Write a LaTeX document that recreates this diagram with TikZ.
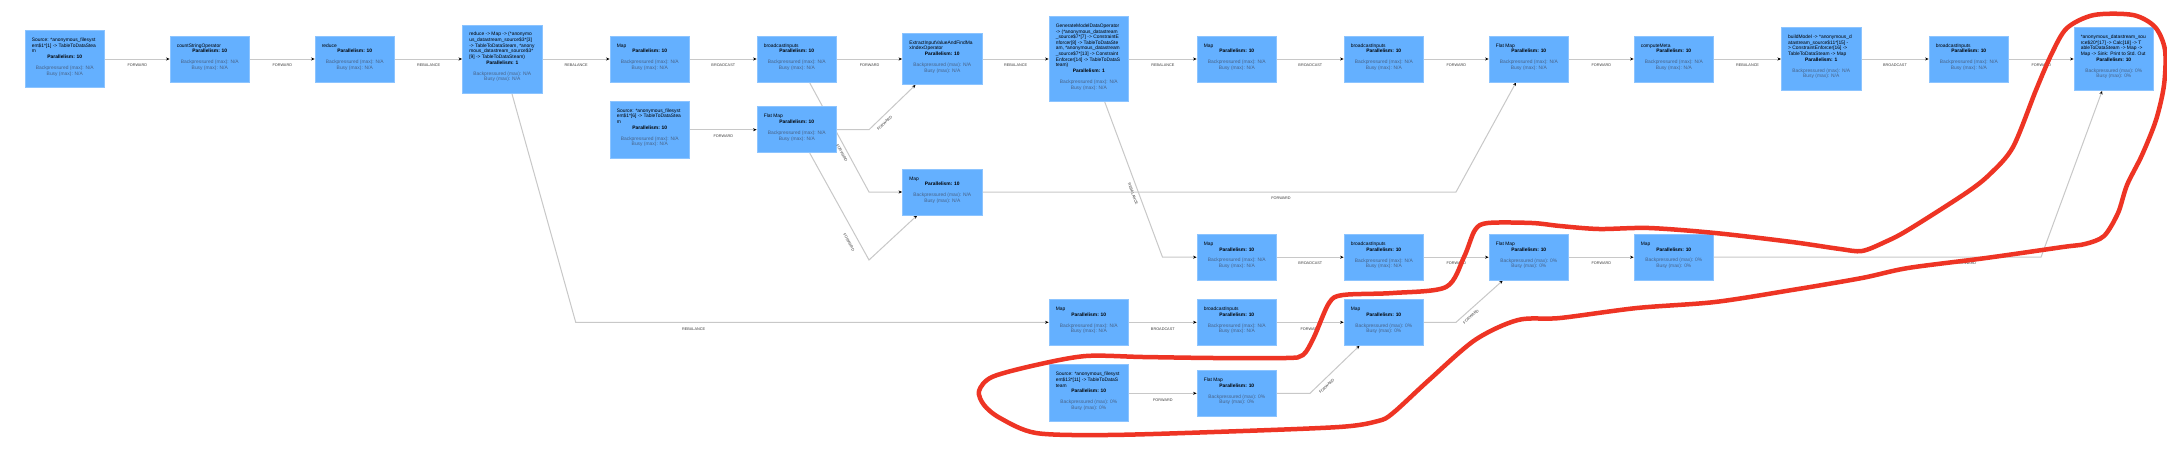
\documentclass[tikz,border=0pt]{standalone}
\usepackage{fontspec}
\setmainfont{Liberation Sans}
\usetikzlibrary{arrows.meta,backgrounds}
\definecolor{opfill}{RGB}{100,176,255}
\definecolor{opline}{RGB}{140,196,255}
\definecolor{edgec}{RGB}{200,200,200}
\definecolor{bpc}{RGB}{72,98,134}
\definecolor{labc}{RGB}{60,60,60}
\definecolor{annot}{RGB}{238,52,36}
\newcommand{\opc}[3]{%
 \begin{minipage}{66pt}\fontsize{4.9pt}{5.6pt}\selectfont\raggedright
 #1\par
 \vspace{0.2pt}{\centering\textbf{Parallelism: #2}\par}%
 \vspace{5.3pt}%
 {\centering\color{bpc}Backpressured (max): #3\par Busy (max): #3\rule[-5pt]{0pt}{5pt}\par}%
 \end{minipage}}
\tikzset{
 opbox/.style={rectangle, fill=opfill, draw=opline, line width=0.7pt, minimum width=79.6pt, minimum height=#1, inner sep=0pt, text=black},
 edge/.style={draw=edgec, line width=1pt, -{Stealth[length=3.6pt,width=3pt,black]}},
 elab/.style={font=\fontsize{3.8pt}{4.5pt}\selectfont, text=labc, inner sep=0pt},
 onedge/.style={elab, midway, yshift=-6.4pt}
}
\begin{document}
\begin{tikzpicture}[x=1pt,y=-1pt]
\useasboundingbox (0,0) rectangle (2167,450);
% row 1
\node[opbox=57pt] (n1) at (64.8,59) {\opc{\mbox{Source: *anonymous\_filesyst}\\\mbox{em\$1*[1] -> TableToDataStea}\\\mbox{m}}{10}{N/A}};
\node[opbox=46pt] (n2) at (209.8,59) {\opc{\mbox{countStringOperator}}{10}{N/A}};
\node[opbox=46pt] (n3) at (354.8,59) {\opc{\mbox{reduce}}{10}{N/A}};
\node[opbox=68pt] (n4) at (502.3,59) {\opc{\mbox{reduce -> Map -> (*anonymo}\\\mbox{us\_datastream\_source\$3*[3]}\\\mbox{-> TableToDataSteam, *anony}\\\mbox{mous\_datastream\_source\$3*}\\\mbox{[9] -> TableToDataSteam)}}{1}{N/A}};
\node[opbox=46pt] (n5) at (649.8,59) {\opc{\mbox{Map}}{10}{N/A}};
\node[opbox=46pt] (n6) at (796.8,59) {\opc{\mbox{broadcastInputs}}{10}{N/A}};
\node[opbox=51pt] (n7) at (942.3,59) {\opc{\mbox{ExtractInputValueAndFindMa}\\\mbox{xIndexOperator}}{10}{N/A}};
\node[opbox=85pt] (n11) at (1088.8,59) {\opc{\mbox{GenerateModelDataOperator}\\\mbox{-> (*anonymous\_datastream}\\\mbox{\_source\$7*[7] -> ConstraintE}\\\mbox{nforcer[8] -> TableToDataSte}\\\mbox{am, *anonymous\_datastream}\\\mbox{\_source\$7*[13] -> Constraint}\\\mbox{Enforcer[14] -> TableToDataS}\\\mbox{team)}}{1}{N/A}};
\node[opbox=46pt] (n12) at (1236.8,59) {\opc{\mbox{Map}}{10}{N/A}};
\node[opbox=46pt] (n13) at (1383.8,59) {\opc{\mbox{broadcastInputs}}{10}{N/A}};
\node[opbox=46pt] (n14) at (1528.8,59) {\opc{\mbox{Flat Map}}{10}{N/A}};
\node[opbox=46pt] (n15) at (1673.8,59) {\opc{\mbox{computeMeta}}{10}{N/A}};
\node[opbox=63pt] (n16) at (1821.2,59) {\opc{\mbox{buildModel -> *anonymous\_d}\\\mbox{atastream\_source\$11*[15] -}\\\mbox{> ConstraintEnforcer[16] ->}\\\mbox{TableToDataSteam -> Map}}{1}{N/A}};
\node[opbox=46pt] (n17) at (1968.8,59) {\opc{\mbox{broadcastInputs}}{10}{N/A}};
\node[opbox=63pt] (n18) at (2113.8,59) {\opc{\mbox{*anonymous\_datastream\_sou}\\\mbox{rce\$20*[17] -> Calc[18] -> T}\\\mbox{ableToDataSteam -> Map ->}\\\mbox{Map -> Sink: Print to Std. Out}}{10}{0\%}};
% row 2
\node[opbox=57pt] (n8) at (649.8,129.7) {\opc{\mbox{Source: *anonymous\_filesyst}\\\mbox{em\$1*[6] -> TableToDataStea}\\\mbox{m}}{10}{N/A}};
\node[opbox=46pt] (n9) at (796.8,129.7) {\opc{\mbox{Flat Map}}{10}{N/A}};
% row 3
\node[opbox=46pt] (n10) at (942.3,192) {\opc{\mbox{Map}}{10}{N/A}};
% row 4
\node[opbox=46pt] (n19) at (1236.8,257.2) {\opc{\mbox{Map}}{10}{N/A}};
\node[opbox=46pt] (n20) at (1383.8,257.2) {\opc{\mbox{broadcastInputs}}{10}{N/A}};
\node[opbox=46pt] (n21) at (1528.8,257.2) {\opc{\mbox{Flat Map}}{10}{0\%}};
\node[opbox=46pt] (n22) at (1673.8,257.2) {\opc{\mbox{Map}}{10}{0\%}};
% row 5
\node[opbox=46pt] (n23) at (1088.8,322.3) {\opc{\mbox{Map}}{10}{N/A}};
\node[opbox=46pt] (n24) at (1236.8,322.3) {\opc{\mbox{broadcastInputs}}{10}{N/A}};
\node[opbox=46pt] (n25) at (1383.8,322.3) {\opc{\mbox{Map}}{10}{0\%}};
% row 6
\node[opbox=57pt] (n26) at (1088.8,393.3) {\opc{\mbox{Source: *anonymous\_filesyst}\\\mbox{em\$13*[11] -> TableToDataS}\\\mbox{team}}{10}{0\%}};
\node[opbox=46pt] (n27) at (1236.8,393.3) {\opc{\mbox{Flat Map}}{10}{0\%}};
% edges
\begin{scope}[on background layer]
\fill[white] (0,0) rectangle (2167,450);
\draw[edge] (n1) -- node[onedge]{FORWARD} (n2);
\draw[edge] (n2) -- node[onedge]{FORWARD} (n3);
\draw[edge] (n3) -- node[onedge]{REBALANCE} (n4);
\draw[edge] (n4) -- node[onedge]{REBALANCE} (n5);
\draw[edge] (n5) -- node[onedge]{BROADCAST} (n6);
\draw[edge] (n6) -- node[onedge]{FORWARD} (n7);
\draw[edge] (n7) -- node[onedge]{REBALANCE} (n11);
\draw[edge] (n11) -- node[onedge]{REBALANCE} (n12);
\draw[edge] (n12) -- node[onedge]{BROADCAST} (n13);
\draw[edge] (n13) -- node[onedge]{FORWARD} (n14);
\draw[edge] (n14) -- node[onedge]{FORWARD} (n15);
\draw[edge] (n15) -- node[onedge]{REBALANCE} (n16);
\draw[edge] (n16) -- node[onedge]{BROADCAST} (n17);
\draw[edge] (n17) -- node[onedge]{FORWARD} (n18);
\draw[edge] (n8) -- node[onedge]{FORWARD} (n9);
\draw[edge] (n19) -- node[onedge]{BROADCAST} (n20);
\draw[edge] (n20) -- node[onedge]{FORWARD} (n21);
\draw[edge] (n21) -- node[onedge]{FORWARD} (n22);
\draw[edge] (n23) -- node[onedge]{BROADCAST} (n24);
\draw[edge] (n24) -- node[onedge]{FORWARD} (n25);
\draw[edge] (n26) -- node[onedge]{FORWARD} (n27);
\draw[edge] (n4) -- (575.7,322.3) -- (n23);
\draw[edge] (n6) -- (869,192) -- (n10);
\draw[edge] (n9) -- (869,129.7) -- (n7);
\draw[edge] (n9) -- (869,260) -- (n10);
\draw[edge] (n10) -- (1456,192) -- (n14);
\draw[edge] (n11) -- (1162.5,257.2) -- (n19);
\draw[edge] (n25) -- (1456,322.3) -- (n21);
\draw[edge] (n27) -- (1310,393.3) -- (n25);
\draw[edge] (n22) -- (2041,257.2) -- (n18);
\end{scope}
% labels of bent edges
\node[elab] (l1) at (693.6,329.3) {REBALANCE};
\node[elab, rotate=-61.5] (l2) at (842,153) {FORWARD};
\node[elab, rotate=44] (l3) at (884.6,123) {FORWARD};
\node[elab, rotate=-61] (l4) at (849,242.5) {FORWARD};
\node[elab] (l5) at (1281,198.3) {FORWARD};
\node[elab, rotate=-70] (l6) at (1133,194) {REBALANCE};
\node[elab, rotate=42] (l7) at (1471,316.7) {FORWARD};
\node[elab, rotate=44] (l8) at (1326.8,386) {FORWARD};
\node[elab] (l9) at (1966.5,263.3) {FORWARD};
% red annotation loop
\draw[annot, line width=4.5pt, line cap=round, line join=round] plot[smooth cycle, tension=0.5] coordinates {
(2094,15) (2133,15) (2155,27) (2165,50) (2164,85) (2156,120) (2142,155) (2127,185) (2118,213) (2104,236) (2085,244) (2063,247) (1986,258) (1908,268) (1862,278) (1792,290) (1715,302) (1637,308) (1560,318) (1518,320) (1475,340) (1429,380) (1393,413) (1378,421) (1339,427) (1214,432) (1107,435) (1036,433) (1000,418) (984,405) (979,391) (992,377) (1036,365) (1086,356) (1143,357) (1214,358) (1286,358) (1303,355) (1314,337) (1329,303) (1343,295) (1393,293) (1446,287) (1464,257) (1475,230) (1488,223) (1532,223) (1560,226) (1599,229) (1649,228) (1715,233) (1792,242) (1840,249) (1862,251) (1885,242) (1908,230) (1966,193) (1990,174) (2013,147) (2036,90) (2052,53) (2067,28)};
\end{tikzpicture}
\end{document}
